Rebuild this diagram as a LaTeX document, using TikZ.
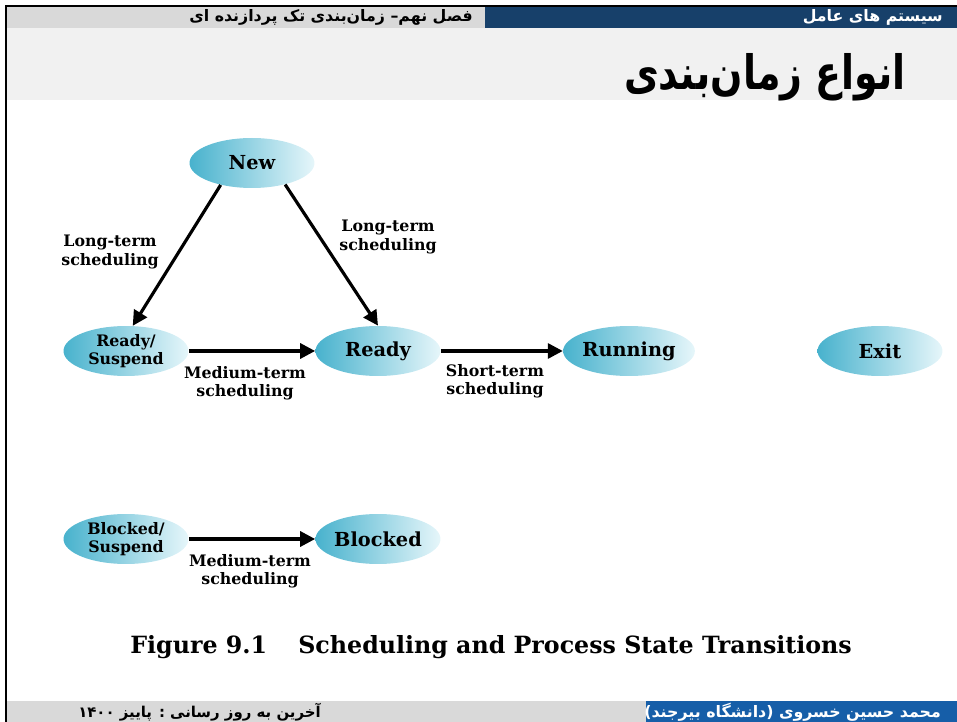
\documentclass[tikz,border=0pt]{standalone}
\usepackage{fontspec}
\setmainfont{DejaVu Serif}
\newfontfamily\arabicfont[Script=Arabic]{DejaVu Sans}
\newfontfamily\titlefont[Script=Arabic, FakeStretch=0.8]{DejaVu Sans}
\TeXXeTstate=1
\usetikzlibrary{arrows.meta,shapes.geometric}
\definecolor{hdrblue}{RGB}{23,64,106}
\definecolor{ftrblue}{RGB}{22,94,168}
\definecolor{hdrgray}{RGB}{217,217,217}
\definecolor{bandgray}{RGB}{241,241,241}
\definecolor{statecyan}{RGB}{72,178,205}
\definecolor{statelight}{RGB}{230,246,250}

\begin{document}
\begin{tikzpicture}[
    x=0.02cm, y=-0.02cm,
    state/.style={ellipse, minimum width=2.5cm, minimum height=1cm, inner sep=0pt,
        left color=statecyan, right color=statelight, align=center,
        font=\fontsize{11}{12}\selectfont\bfseries},
    smallstate/.style={state, font=\fontsize{9}{10}\selectfont\bfseries},
    lbl/.style={align=center, font=\fontsize{9}{10.5}\selectfont\bfseries},
    arrow/.style={-{Triangle[length=8.5pt,width=8.5pt]}, line width=1.8pt},
    fa/.style={font=\fontsize{9}{10}\selectfont\arabicfont\bfseries},
    caption/.style={anchor=west, inner sep=0pt, font=\fontsize{13.5}{15}\selectfont\bfseries}
]
\useasboundingbox (0,0) rectangle (957,722);

% Header and footer bands
\fill[hdrgray] (6,6) rectangle (485,28);
\fill[hdrblue] (485,6) rectangle (957,28);
\fill[bandgray] (6,28) rectangle (957,100);
\fill[hdrgray] (6,701) rectangle (646,722);
\fill[ftrblue] (646,701) rectangle (957,722);
\draw[line width=1.4pt] (6,722) -- (6,6) -- (957,6);

% Header texts
\node[fa, anchor=east, white] (course) at (949,17) {\beginR سیستم های عامل\endR};
\node[fa, anchor=east] (chapter) at (479,17) {\beginR فصل نهم– زمان‌بندی تک پردازنده ای\endR};
\node[anchor=east, font=\fontsize{27}{29}\selectfont\titlefont\bfseries] (title) at (912,77) {\beginR انواع زمان‌بندی\endR};

% States
\node[state] (new) at (252,163) {New};
\node[smallstate] (rsusp) at (126,351) {Ready/\\Suspend};
\node[state] (ready) at (378,351) {Ready};
\node[state] (running) at (629,351) {Running};
\node[state] (exit) at (880,351) {Exit};
\node[smallstate] (bsusp) at (126,539) {Blocked/\\Suspend};
\node[state] (blocked) at (378,539) {Blocked};

% Transitions
\draw[arrow] (new.215) -- (rsusp.75);
\draw[arrow] (new.327) -- (ready.north);
\draw[arrow] (rsusp.east) -- (ready.west);
\draw[arrow] (ready.east) -- (running.west);
\draw[arrow] (bsusp.east) -- (blocked.west);

% Labels
\node[lbl] (lt1) at (110,252) {Long-term\\scheduling};
\node[lbl] (lt2) at (388,237) {Long-term\\scheduling};
\node[lbl] (mt1) at (245,383) {Medium-term\\scheduling};
\node[lbl] (st) at (495,381) {Short-term\\scheduling};
\node[lbl] (mt2) at (250,571) {Medium-term\\scheduling};

% Caption
\node[caption] (fignum) at (130,647) {Figure 9.1};
\node[caption] (figcap) at (298,647) {Scheduling and Process State Transitions};

% Footer texts
\node[fa, anchor=east, font=\fontsize{8.5}{10}\selectfont\arabicfont\bfseries] (update) at (327,712) {\beginR آخرین به روز رسانی : پاییز \beginL۱۴۰۰\endL\endR};
\node[fa, anchor=east, white] (author) at (947,712) {\beginR محمد حسین خسروی (دانشگاه بیرجند)\endR};
\end{tikzpicture}
\end{document}
